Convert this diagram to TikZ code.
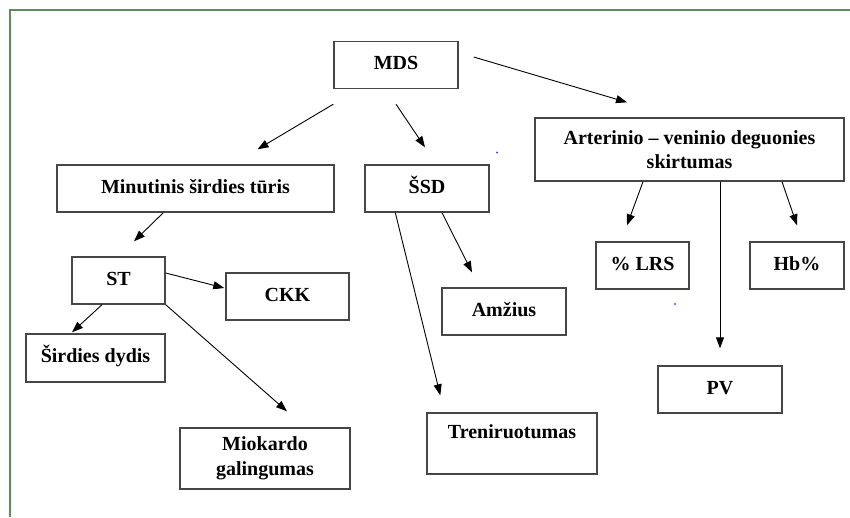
\documentclass[tikz,border=0pt]{standalone}
\usepackage{fontspec}
\setmainfont{Liberation Serif}
\usepackage{tikz}
\usetikzlibrary{arrows.meta}
\definecolor{frm}{RGB}{95,140,95}
\definecolor{edge}{RGB}{70,70,70}

\begin{document}
\begin{tikzpicture}[x=1pt,y=-1pt,
box/.style={draw=edge,line width=1.4pt,minimum height=47pt,align=center,inner sep=2pt,font=\fontsize{20}{24.5}\selectfont\bfseries},
one/.style={box,text height=14pt,text depth=5pt},
arr/.style={-{Triangle[length=11pt,width=8pt]},line width=0.9pt}]
\useasboundingbox (0,0) rectangle (850,517);
\draw[frm,line width=2pt] (9.5,517) -- (9.5,10) -- (850,10);
\node[one,minimum width=124pt](mds) at (396,65){MDS};
\node[one,minimum width=277pt](mst) at (195.5,188.5){Minutinis širdies tūris};
\node[one,minimum width=124pt](ssd) at (427,188.5){ŠSD};
\node[box,minimum width=309pt,minimum height=63pt](avd) at (689.5,149.5){Arterinio – veninio deguonies\\skirtumas};
\node[one,minimum width=93pt](st) at (118.5,280.5){ST};
\node[one,minimum width=123pt](ckk) at (287.5,296.5){CKK};
\node[one,minimum width=139pt,minimum height=48pt](sd) at (95.5,358){Širdies dydis};
\node[box,minimum width=170pt,minimum height=61pt](mg) at (265,458.5){Miokardo\\galingumas};
\node[one,minimum width=93pt](lrs) at (642.5,265.5){\% LRS};
\node[one,minimum width=94pt](hb) at (797,265.5){Hb\%};
\node[one,minimum width=124pt](amz) at (504,311.5){Amžius};
\node[one,minimum width=124pt](pv) at (720,389.5){PV};
\node[box,minimum width=170pt,minimum height=61pt](tr) at (512,443.5){Treniruotumas\\\mbox{}};
\draw[arr] ([yshift=-15pt]mds.south west) -- ([xshift=62pt,yshift=15pt]mst.north);
\draw[arr] ([yshift=-15pt]mds.south) -- ([xshift=-2pt,yshift=17pt]ssd.north);
\draw[arr] ([xshift=15pt,yshift=8pt]mds.east) -- ([xshift=-62.5pt,yshift=15pt]avd.north);
\draw[arr] ([xshift=107pt]mst.south west) -- ([xshift=15.5pt,yshift=15pt]st.north);
\draw[arr] ([xshift=15pt]ssd.south) -- ([xshift=-32pt,yshift=15pt]amz.north);
\draw[arr] ([xshift=31pt]ssd.south west) -- ([xshift=14pt,yshift=17pt]tr.north west);
\draw[arr] ([yshift=7.5pt]st.east) -- ([xshift=-1pt,yshift=8.5pt]ckk.west);
\draw[arr] ([xshift=-16.5pt]st.south) -- ([xshift=-23.5pt,yshift=1pt]sd.north);
\draw[arr] (st.south east) -- ([xshift=22pt,yshift=16pt]mg.north);
\draw[arr] ([xshift=-46.5pt]avd.south) -- ([xshift=-15.5pt,yshift=16pt]lrs.north);
\draw[arr] ([xshift=92.5pt]avd.south) -- ([yshift=16pt]hb.north);
\draw[arr] ([xshift=30.5pt]avd.south) -- ([yshift=17pt]pv.north);
\fill[blue!70] (497,152.5) circle (1.2pt);
\fill[blue!70] (675,304) circle (1.2pt);
\end{tikzpicture}
\end{document}
